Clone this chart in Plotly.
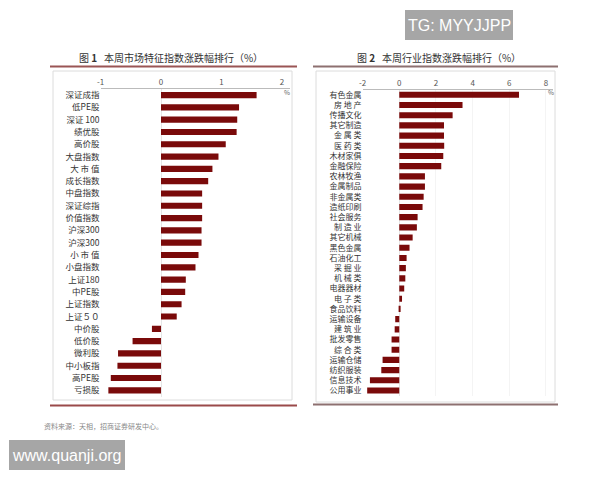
import plotly.graph_objects as go

# page body has an 8px default margin, so the figure is sized to fit inside the 600x480 window
OFF = 8
W, H = 600 - OFF, 480 - OFF

# ---- data ----
left_labels = ["深证成指", "低PE股", "深证 100", "绩优股", "高价股", "大盘指数", "大 市 值",
               "成长指数", "中盘指数", "深证综指", "价值指数", "沪深300", "沪深300", "小 市 值",
               "小盘指数", "上证180", "中PE股", "上证指数", "上证５０", "中价股", "低价股",
               "微利股", "中小板指", "高PE股", "亏损股"]
left_values = [1.58, 1.29, 1.26, 1.25, 1.07, 0.95, 0.85, 0.78, 0.68, 0.68, 0.68, 0.67, 0.67,
               0.62, 0.57, 0.41, 0.40, 0.34, 0.26, -0.15, -0.47, -0.71, -0.72, -0.83, -0.87]
left_ticks = [-1, 0, 1, 2]

right_labels = ["有色金属", "房 地 产", "传播文化", "其它制造", "金 属 类", "医 药 类", "木材家俱",
                "金融保险", "农林牧渔", "金属制品", "非金属类", "造纸印刷", "社会服务", "制 造 业",
                "其它机械", "黑色金属", "石油化工", "采 掘 业", "机 械 类", "电器器材", "电 子 类",
                "食品饮料", "运输设备", "建 筑 业", "批发零售", "综 合 类", "运输仓储", "纺织服装",
                "信息技术", "公用事业"]
right_values = [6.53, 3.45, 2.91, 2.44, 2.44, 2.45, 2.40, 2.29, 1.40, 1.40, 1.33, 1.27, 1.00,
                0.96, 0.73, 0.56, 0.40, 0.36, 0.33, 0.27, 0.15, 0.07, -0.22, -0.25, -0.42,
                -0.42, -0.91, -0.98, -1.60, -1.75]
right_ticks = [-2, 0, 2, 4, 6, 8]

BAR = "#7a0a0a"
FONT = "Noto Sans CJK SC"

def px(x):
    return (x - OFF) / W

def py(y):
    return 1 - (y - OFF) / H

fig = go.Figure()
fig.add_trace(go.Bar(x=left_values, y=list(range(len(left_labels))), orientation="h",
                     marker=dict(color=BAR, line=dict(width=0)), width=0.5,
                     xaxis="x", yaxis="y", hoverinfo="x"))
fig.add_trace(go.Bar(x=right_values, y=list(range(len(right_labels))), orientation="h",
                     marker=dict(color=BAR, line=dict(width=0)), width=0.6,
                     xaxis="x2", yaxis="y2", hoverinfo="x"))

axis_font = dict(family=FONT, size=8, color="#555")
lab_font_l = dict(family=FONT, size=8.5, color="#333")
lab_font_r = dict(family=FONT, size=8, color="#333")

fig.update_layout(
    width=W, height=H, margin=dict(l=0, r=0, t=0, b=0, autoexpand=False),
    paper_bgcolor="white", plot_bgcolor="white", showlegend=False,
    xaxis=dict(domain=[px(100.5), px(290)], range=[-1.0, (290 - 161) / 60.5],
               side="top", anchor="y", tickvals=left_ticks, ticktext=[str(t) for t in left_ticks],
               showline=True, linecolor="#bbb", linewidth=1, showgrid=False,
               zeroline=True, zerolinecolor="#e6e6e6", zerolinewidth=1,
               tickfont=axis_font, ticks="", automargin=False, fixedrange=True),
    yaxis=dict(domain=[py(396.5), py(88.9)], range=[24.5, -0.5], anchor="x",
               tickvals=list(range(len(left_labels))), ticktext=left_labels,
               showline=False, showgrid=False, zeroline=False, ticks="",
               tickfont=lab_font_l, automargin=False, fixedrange=True),
    xaxis2=dict(domain=[px(362.6), px(553)], range=[-2.0, (553 - 399.3) / 18.33],
                side="top", anchor="y2", tickvals=right_ticks, ticktext=[str(t) for t in right_ticks],
                showline=True, linecolor="#bbb", linewidth=1,
                showgrid=True, gridcolor="#f4f4f4", gridwidth=1,
                zeroline=True, zerolinecolor="#e6e6e6", zerolinewidth=1,
                tickfont=axis_font, ticks="", automargin=False, fixedrange=True),
    yaxis2=dict(domain=[py(395.6), py(89.7)], range=[len(right_labels) - 0.5, -0.5], anchor="x2",
                tickvals=list(range(len(right_labels))), ticktext=right_labels,
                showline=False, showgrid=False, zeroline=False, ticks="",
                tickfont=lab_font_r, automargin=False, fixedrange=True),
)

shapes = [
    # frames
    dict(type="rect", xref="paper", yref="paper", x0=px(53), x1=px(292), y0=py(400), y1=py(71),
         line=dict(color="#dcdcdc", width=1)),
    dict(type="rect", xref="paper", yref="paper", x0=px(316), x1=px(555), y0=py(402), y1=py(71),
         line=dict(color="#dcdcdc", width=1)),
    # title rules
    dict(type="line", xref="paper", yref="paper", x0=px(50), x1=px(297), y0=py(66.5), y1=py(66.5),
         line=dict(color="#9a5555", width=2)),
    dict(type="line", xref="paper", yref="paper", x0=px(313), x1=px(558), y0=py(66.5), y1=py(66.5),
         line=dict(color="#8d7070", width=2)),
    dict(type="line", xref="paper", yref="paper", x0=px(50), x1=px(297), y0=py(405.5), y1=py(405.5),
         line=dict(color="#9a4a4a", width=2)),
    dict(type="line", xref="paper", yref="paper", x0=px(313), x1=px(558), y0=py(404.5), y1=py(404.5),
         line=dict(color="#8d7070", width=2)),
    # watermark boxes
    dict(type="rect", xref="paper", yref="paper", x0=px(405), x1=px(513), y0=py(40), y1=py(10),
         fillcolor="#a6a6a6", line=dict(width=0)),
    dict(type="rect", xref="paper", yref="paper", x0=px(9), x1=px(125), y0=py(470), y1=py(440),
         fillcolor="#a6a6a6", line=dict(width=0)),
]
fig.update_layout(shapes=shapes)

title_font = dict(family=FONT, size=10, color="#333")
ann = [
    dict(x=px(171), y=py(58), text="图 <b>1</b>   本周市场特征指数涨跌幅排行（%）", font=title_font),
    dict(x=px(439), y=py(58), text="图 <b>2</b>   本周行业指数涨跌幅排行（%）", font=title_font),
    dict(x=px(287), y=py(92), text="%", font=dict(family=FONT, size=6.5, color="#666")),
    dict(x=px(551), y=py(92), text="%", font=dict(family=FONT, size=6.5, color="#666")),
    dict(x=px(42), y=py(426), text="资料来源：天相，招商证券研发中心。", xanchor="left",
         font=dict(family=FONT, size=7, color="#888")),
    dict(x=px(459), y=py(25), text="TG: MYYJJPP", font=dict(family="Liberation Sans", size=16, color="white")),
    dict(x=px(67), y=py(455), text="www.quanji.org", font=dict(family="Liberation Sans", size=16, color="white")),
]
for a in ann:
    a.setdefault("xanchor", "center")
    fig.add_annotation(xref="paper", yref="paper", showarrow=False, yanchor="middle", **a)

fig.write_html("out.html")
